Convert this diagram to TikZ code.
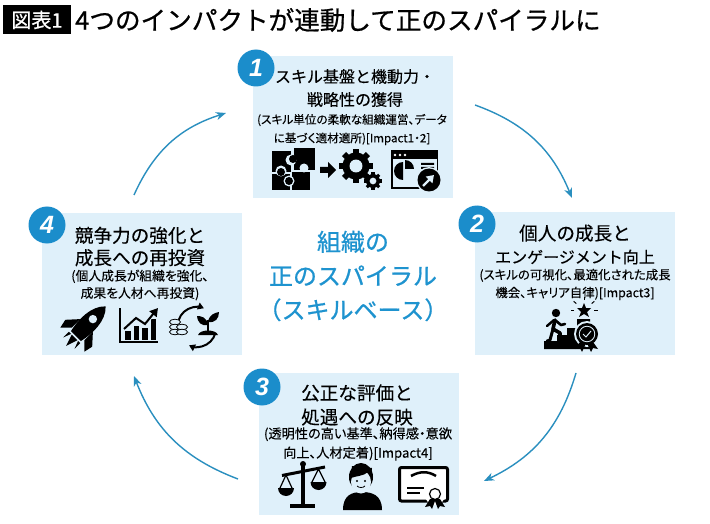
\documentclass[tikz,border=0pt]{standalone}
\usepackage{fontspec}
\setmainfont[FakeBold=0.25]{Noto Sans CJK JP}
\newfontfamily\subfont[RawFeature=+palt,FakeBold=0.15]{Noto Sans CJK JP}
\newfontfamily\boldfont[FakeBold=0.7]{Noto Sans CJK JP}
\newfontfamily\numfont{Liberation Sans}
\usetikzlibrary{arrows.meta,positioning}
\definecolor{boxblue}{HTML}{DFF0FA}
\definecolor{ringblue}{HTML}{1B8DCB}
\definecolor{arcblue}{HTML}{2A8FBF}
\definecolor{midblue}{HTML}{1E93CF}
\newcommand{\fsz}[1]{\fontsize{#1}{#1}\selectfont}
\begin{document}
\begin{tikzpicture}[x=1pt,y=-1pt]
    \tikzset{
        panel/.style={fill=boxblue,draw=none,rectangle,minimum width=200pt,minimum height=142pt,inner sep=0pt},
        badge/.style={circle,fill=ringblue,draw=none,minimum size=37pt,inner sep=0pt,text=white,font=\numfont\bfseries\itshape\fsz{25}},
        head/.style={align=center,inner sep=0pt,font=\fsz{17}},
        sub/.style={align=center,inner sep=0pt},
        flow/.style={arcblue,line width=1.4pt,-{Stealth[length=10pt,width=8pt,inset=3pt]}},
        ink/.style={fill=black,draw=none},
        hole/.style={fill=boxblue,draw=none},
        gearicon/.pic={
            \foreach \a in {0,45,...,315}
                \fill[rotate=\a] (-0.22,-1.25) rectangle (0.22,0);
            \fill (0,0) circle (1);
            \fill[boxblue] (0,0) circle (0.48);
        }
    }
    \useasboundingbox (0,0) rectangle (710,524);
    \fill[white] (0,0) rectangle (710,524);

    % title
    \node[fill=black,text=white,inner sep=0pt,minimum width=68pt,minimum height=29pt,font=\boldfont\fsz{20}] (tag) at (37,20) {図表1};
    \node[anchor=west,inner sep=0pt,font=\boldfont\fsz{25.6}] (title) at (75,20) {4つのインパクトが連動して正のスパイラルに};

    % panels
    \node[panel] (p1) at (353,127.5) {};
    \node[panel] (p2) at (575,283.5) {};
    \node[panel] (p3) at (359,444) {};
    \node[panel] (p4) at (141.5,284) {};
    \node[badge] (b1) at (256,68) {1};
    \node[badge] (b2) at (477,224) {2};
    \node[badge] (b3) at (262,387) {3};
    \node[badge] (b4) at (47,225) {4};

    % texts
    \node[head] (h1) at (355,88) {\fsz{16}スキル基盤と機動力・\\[6pt]\fsz{16}戦略性の獲得};
    \node[sub,font=\subfont\fsz{11.6}] (s1) at (352,129.5) {(スキル単位の柔軟な組織運営、データ\\[5.5pt]に基づく適材適所)[Impact1・2]};
    \node[head] (h2) at (575,244.5) {\fsz{18.6}個人の成長と\\[6pt]\fsz{16}エンゲージメント向上};
    \node[sub,font=\subfont\fsz{12.4}] (s2) at (575,284.5) {(スキルの可視化、最適化された成長\\[4pt]機会、キャリア自律)[Impact3]};
    \node[head] (h3) at (357,405) {\fsz{18.6}公正な評価と\\[6pt]\fsz{18.6}処遇への反映};
    \node[sub,font=\subfont\fsz{13.2}] (s3) at (358,444) {(透明性の高い基準、納得感・意欲\\[4.5pt]向上、人材定着)[Impact4]};
    \node[head] (h4) at (140,246.5) {\fsz{18.6}競争力の強化と\\[4pt]\fsz{18.6}成長への再投資};
    \node[sub,font=\subfont\fsz{12.8}] (s4) at (140,285) {(個人成長が組織を強化、\\[3pt]成果を人材へ再投資)};
    \node[align=center,inner sep=0pt,text=midblue,font=\boldfont\fsz{24}] (mid) at (353,276) {組織の\\[10pt]正のスパイラル\\[10pt]（スキルベース）};

    % arrows
    \coordinate (a1) at (475,105);
    \coordinate (a2) at (572,198);
    \coordinate (a3) at (576,373);
    \coordinate (a4) at (484,481);
    \coordinate (a5) at (238,479);
    \coordinate (a6) at (134,376);
    \coordinate (a7) at (134,195);
    \coordinate (a8) at (226,113);
    \draw[flow] (a1) to[bend left=24] (a2);
    \draw[flow] (a3) to[bend left=24] (a4);
    \draw[flow] (a5) to[bend left=24] (a6);
    \draw[flow] (a7) to[bend left=24] (a8);

    % icon: puzzle, arrow, gears
    \fill[ink] (272,151) rectangle (291,172.5);
    \fill[ink] (294,148) rectangle (315,170);
    \fill[ink] (272,174) rectangle (290,190);
    \fill[ink] (292,172) rectangle (310,190);
    \fill[hole] (291,160) circle (5.5) (304,168) circle (4.5);
    \fill[ink] (293,159) circle (4);
    \fill[hole] (281,171) circle (5.5) (289,181) circle (5.5);
    \fill[ink] (281,172) circle (4) (289,181) circle (4);
    \fill[ink] (320,167) rectangle (328,173) (328,162) -- (336,170) -- (328,178) -- cycle;
    \pic[scale=13.5] at (356,166) {gearicon};
    \pic[scale=7] at (373,181) {gearicon};

    % icon: window
    \fill[ink] (391,150) rectangle (438,189);
    \fill[hole] (392.5,159) rectangle (436.5,187.5);
    \fill[white] (395,155) circle (1.3) (400,155) circle (1.3) (405,155) circle (1.3);
    \fill[ink] (403,171) -- (403,162) arc[start angle=-90,end angle=-270,radius=9] -- cycle;
    \fill[ink] (405,169) -- (405,160) arc[start angle=-90,end angle=0,radius=9] -- cycle;
    \fill[ink] (421,163) rectangle (434,165) (421,167) rectangle (434,169) (421,171) rectangle (434,173);
    \fill[hole] (429,180) circle (13);
    \fill[ink] (429,180) circle (11.5);
    \draw[boxblue,line width=2.4pt,-{Stealth[length=7pt,width=9pt,inset=0pt]}] (423,186) -- (434,175);

    % icon: stairs
    \fill[ink] (544,349) -- (544,341) -- (557,341) -- (557,335) -- (567,335) -- (567,328) -- (577,328) -- (577,319) -- (590,319) -- (590,349) -- cycle;
    \fill[ink] (556,313) circle (4.2);
    \draw[line width=3.6pt,line cap=round,line join=round] (555,320) -- (553,329) -- (560,333) -- (560,341);
    \draw[line width=3pt,line cap=round,line join=round] (553,329) -- (550,340) -- (547,341);
    \draw[line width=2.6pt,line cap=round,line join=round] (555,320) -- (561,325) -- (565,324);
    \draw[line width=2.4pt,line cap=round,line join=round] (554,320) -- (547,326);
    \fill[ink] (584,303) -- (586,308) -- (591,308) -- (587,312) -- (589,317) -- (584,314) -- (579,317) -- (581,312) -- (577,308) -- (582,308) -- cycle;
    \foreach \a in {-90,-40,-140,0,180}
        \draw[line width=1pt] (584,310) ++(\a:10) -- ++(\a:3.5);
    \fill[boxblue] (587,334) circle (13);
    \fill[ink] (580,342) -- (575,349) -- (580,348) -- (582,352) -- (586,343) -- cycle;
    \fill[ink] (593,342) -- (598,349) -- (593,348) -- (591,352) -- (587,343) -- cycle;
    \fill[ink] (587,334) circle (11);
    \fill[boxblue] (587,334) circle (8.2);
    \fill[ink] (587,334) circle (7.2);
    \draw[boxblue,line width=1pt] (583,334) -- (586,337) -- (591,331);

    % icon: balance
    \fill[ink] (290,504) rectangle (315,508);
    \fill[ink] (301,464) rectangle (305,505);
    \fill[ink] (303,464) circle (3);
    \draw[line width=3pt] (282,475.5) -- (325,467);
    \draw[line width=1.2pt] (280,488) -- (286,475) -- (292,488);
    \draw[line width=1.2pt] (312,482) -- (318.5,469) -- (325,482);
    \fill[ink] (278,488) arc[start angle=180,end angle=0,radius=8] -- cycle;
    \fill[ink] (310.5,482) arc[start angle=180,end angle=0,radius=8] -- cycle;

    % icon: person
    \fill[ink] (343,510) .. controls (343,495) and (352,492) .. (362,492) .. controls (372,492) and (382,495) .. (382,510) -- cycle;
    \fill[ink] (361,477) ellipse (12 and 14);
    \fill[hole] (361,482) ellipse (10 and 11.5);
    \fill[ink] (351,478) .. controls (356,476) and (364,476) .. (368,472) -- (371,478) -- (372,468) -- (352,466) -- cycle;
    \fill[ink] (357,481) circle (1.2) (365,481) circle (1.2);
    \draw[line width=0.8pt] (357,486) .. controls (359,488) and (363,488) .. (365,486);

    % icon: certificate
    \draw[line width=3pt,rounded corners=2pt,fill=white] (399.5,467.5) rectangle (447.5,501);
    \draw[line width=2.5pt] (411,476) .. controls (420,471) and (428,471) .. (436,476);
    \draw[line width=1.2pt] (407,488) -- (424,488) (407,493) -- (420,493);
    \fill[white] (435,495) circle (10);
    \draw[line width=1.2pt] (435,494) circle (5.5);
    \fill[ink] (430,499) -- (425,507) -- (430,506) -- (432,509) -- (435,501) -- (438,509) -- (440,506) -- (445,507) -- (440,499) -- cycle;

    % icon: rocket
    \begin{scope}[shift={(83,329)},rotate=-45]
        \fill[ink] (0,-32) .. controls (11,-22) and (10,-2) .. (7,10) -- (-7,10) .. controls (-10,-2) and (-11,-22) .. (0,-32) -- cycle;
        \fill[ink] (-9,-5) -- (-19,6) -- (-17,15) -- (-9,7) -- cycle;
        \fill[ink] (9,-5) -- (19,6) -- (17,15) -- (9,7) -- cycle;
        \fill[hole] (0,-14) circle (4.2);
        \fill[ink] (-4,12) -- (4,12) -- (0,24) -- cycle;
        \fill[ink] (-8,12) -- (-5,12) -- (-8,20) -- cycle;
        \fill[ink] (8,12) -- (5,12) -- (8,20) -- cycle;
    \end{scope}

    % icon: chart
    \foreach \xa/\ya in {125/331,133.5/326,142/328,150.5/319}
        \fill[ink] (\xa,\ya) rectangle (\xa+5.5,340);
    \draw[line width=1.6pt] (120,308) -- (120,342) -- (158,342);
    \draw[boxblue,line width=4pt] (124,329) -- (136,318) -- (145,324) -- (153,314);
    \draw[line width=2pt,-{Stealth[length=8pt,width=9pt,inset=0pt]}] (124,329) -- (136,318) -- (145,324) -- (158,308);

    % icon: coins and plant
    \draw[line width=2pt,-{Stealth[length=6pt,width=7pt,inset=0pt]}] (178.7,320) arc[start angle=-162,end angle=-68,radius=19];
    \draw[line width=2pt,-{Stealth[length=6pt,width=7pt,inset=0pt]}] (215.4,333) arc[start angle=15,end angle=115,radius=19];
    \foreach \xa/\ya in {175/322,175/327,175/332,182/327,182/332}
        \draw[ink,fill=boxblue,draw=black,line width=0.8pt] (\xa,\ya) ellipse (5.5 and 2.8);
    \fill[ink] (198,335) .. controls (200,329) and (216,329) .. (218,335) -- cycle;
    \draw[line width=1.4pt] (208,333) -- (208,320);
    \fill[ink] (208,325) .. controls (207,317) and (201,316) .. (197,316) .. controls (198,323) and (201,326) .. (208,325) -- cycle;
    \fill[ink] (208,322) .. controls (209,315) and (214,313) .. (219,312) .. controls (219,319) and (215,323) .. (208,322) -- cycle;
\end{tikzpicture}
\end{document}
